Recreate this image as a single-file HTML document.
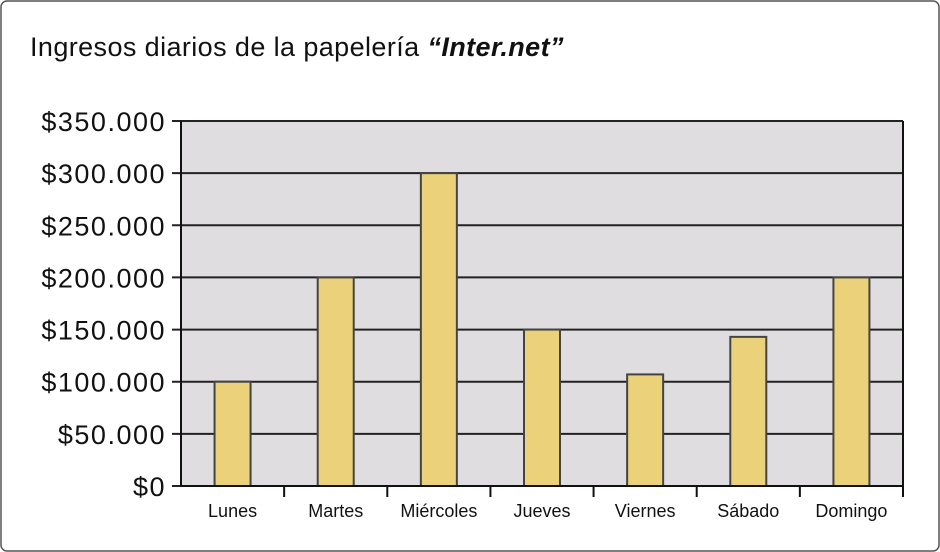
<!DOCTYPE html>
<html><head><meta charset="utf-8"><style>
body{margin:0;background:#fff;}
svg{display:block;font-family:"Liberation Sans",sans-serif;}
</style></head><body>
<svg width="940" height="552">
<rect x="1" y="1" width="938" height="550" rx="6" fill="#fff" stroke="#555" stroke-width="1.5"/>
<text x="30" y="56" font-size="27" letter-spacing="0.4" fill="#111">Ingresos diarios de la papelería <tspan font-weight="bold" font-style="italic">“Inter.net”</tspan></text>
<g id="plot"></g>
</svg>
<script>
const categories=["Lunes","Martes","Miércoles","Jueves","Viernes","Sábado","Domingo"];
const values=[100000,200000,300000,150000,107000,143000,200000];
const yTicks=[0,50000,100000,150000,200000,250000,300000,350000];
const yTickLabels=["$0","$50.000","$100.000","$150.000","$200.000","$250.000","$300.000","$350.000"];
const NS="http://www.w3.org/2000/svg";
const g=document.getElementById('plot');
const L=181,R=903,T=121,B=486,yMax=350000;
const y=v=>B-(v/yMax)*(B-T);
const bw=(R-L)/categories.length;
const x=i=>L+i*bw;
function mk(t,a){const e=document.createElementNS(NS,t);for(const k in a)e.setAttribute(k,a[k]);g.appendChild(e);return e;}
let bg=mk('rect',{x:L,y:T,width:R-L,height:B-T,fill:'#dfdddf'});


yTicks.forEach((v,i)=>{
 let ln=mk('line',{x1:172,x2:R,y1:y(v),y2:y(v),stroke:'#222','stroke-width':2});
 
 
 let t=mk('text',{x:166,y:y(v)+10,'text-anchor':'end','font-size':27,'letter-spacing':1.5,fill:'#111'});
 t.textContent=yTickLabels[i];
 
 
});
categories.forEach((c,i)=>{
 const cx=x(i)+bw/2;
 let r=mk('rect',{x:cx-18,y:y(values[i]),width:36,height:B-y(values[i]),fill:'#ebd27a',stroke:'#444','stroke-width':2});
 
 
 let tk=mk('line',{x1:x(i+1),x2:x(i+1),y1:B,y2:B+11,stroke:'#111','stroke-width':2});
 
 
 let t=mk('text',{x:cx,y:B+31,'text-anchor':'middle','font-size':18,fill:'#111'});
 t.textContent=c;
 
 
});
let ax=mk('line',{x1:L,x2:L,y1:T,y2:B,stroke:'#111','stroke-width':2});


let xa=mk('line',{x1:L,x2:R+1,y1:B,y2:B,stroke:'#111','stroke-width':2});


let rb=mk('line',{x1:R,x2:R,y1:T,y2:B,stroke:'#111','stroke-width':2});


</script>
</body></html>
